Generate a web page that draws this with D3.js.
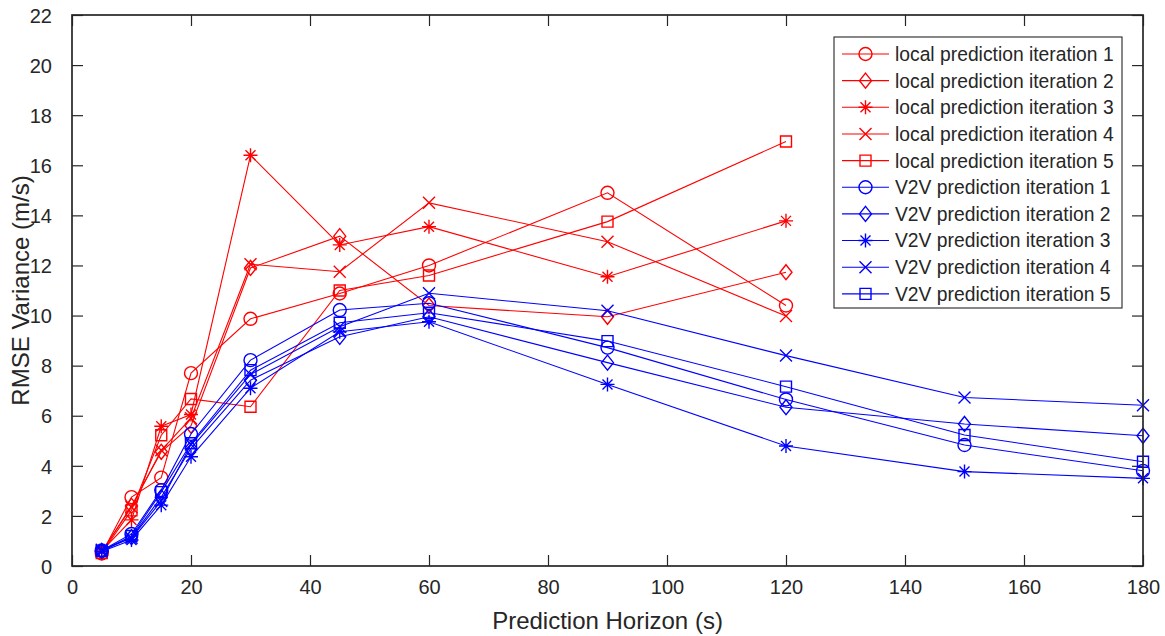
<!DOCTYPE html>
<html>
<head>
<meta charset="utf-8">
<script src="https://cdn.jsdelivr.net/npm/d3@7/dist/d3.min.js"></script>
<style>
  html, body { margin: 0; padding: 0; background: #ffffff; }
  svg { display: block; }
  text { font-family: "Liberation Sans", Arial, Helvetica, sans-serif; fill: #262626; }
</style>
</head>
<body>
<svg id="chart" width="1165" height="636"></svg>
<script>
// Prediction horizons (s)
const horizonLocal = [5, 10, 15, 20, 30, 45, 60, 90, 120];
const horizonV2V = [5, 10, 15, 20, 30, 45, 60, 90, 120, 150, 180];

// RMSE variance (m/s), local prediction runs
const local1 = [0.50, 2.75, 3.53, 7.70, 9.87, 10.88, 12.00, 14.90, 10.40];
const local2 = [0.55, 2.40, 4.56, 5.60, 11.90, 13.17, 10.40, 9.95, 11.73];
const local3 = [0.60, 1.84, 5.58, 6.05, 16.40, 12.82, 13.55, 11.55, 13.78];
const local4 = [0.58, 2.35, 4.62, 5.90, 12.05, 11.75, 14.50, 12.95, 9.98];
const local5 = [0.52, 2.22, 5.22, 6.67, 6.36, 11.00, 11.60, 13.75, 16.95];

// RMSE variance (m/s), V2V prediction runs
const v2v1 = [0.62, 1.28, 3.03, 5.27, 8.22, 10.22, 10.49, 8.72, 6.65, 4.83, 3.80];
const v2v2 = [0.60, 1.15, 2.75, 4.70, 7.42, 9.15, 9.95, 8.12, 6.34, 5.67, 5.20];
const v2v3 = [0.58, 1.04, 2.43, 4.36, 7.10, 9.35, 9.75, 7.25, 4.79, 3.77, 3.50];
const v2v4 = [0.65, 1.12, 2.60, 4.85, 7.65, 9.55, 10.89, 10.19, 8.40, 6.73, 6.42];
const v2v5 = [0.60, 1.20, 2.95, 4.90, 7.82, 9.71, 10.11, 8.98, 7.16, 5.23, 4.16];

const seriesNames = [
  "local prediction iteration 1", "local prediction iteration 2", "local prediction iteration 3",
  "local prediction iteration 4", "local prediction iteration 5",
  "V2V prediction iteration 1", "V2V prediction iteration 2", "V2V prediction iteration 3",
  "V2V prediction iteration 4", "V2V prediction iteration 5"
];
const xTicks = [0, 20, 40, 60, 80, 100, 120, 140, 160, 180];
const yTicks = [0, 2, 4, 6, 8, 10, 12, 14, 16, 18, 20, 22];

const RED = "#ff0000", BLUE = "#0000ff", AXIS = "#262626";
const markerKinds = ["circle", "diamond", "asterisk", "cross", "square"];

const series = [
  { name: seriesNames[0], x: horizonLocal, y: local1, color: RED, marker: markerKinds[0] },
  { name: seriesNames[1], x: horizonLocal, y: local2, color: RED, marker: markerKinds[1] },
  { name: seriesNames[2], x: horizonLocal, y: local3, color: RED, marker: markerKinds[2] },
  { name: seriesNames[3], x: horizonLocal, y: local4, color: RED, marker: markerKinds[3] },
  { name: seriesNames[4], x: horizonLocal, y: local5, color: RED, marker: markerKinds[4] },
  { name: seriesNames[5], x: horizonV2V, y: v2v1, color: BLUE, marker: markerKinds[0] },
  { name: seriesNames[6], x: horizonV2V, y: v2v2, color: BLUE, marker: markerKinds[1] },
  { name: seriesNames[7], x: horizonV2V, y: v2v3, color: BLUE, marker: markerKinds[2] },
  { name: seriesNames[8], x: horizonV2V, y: v2v4, color: BLUE, marker: markerKinds[3] },
  { name: seriesNames[9], x: horizonV2V, y: v2v5, color: BLUE, marker: markerKinds[4] }
];

const margin = { left: 72, right: 22, top: 15, bottom: 70 };
const W = 1165, H = 636;
const x = d3.scaleLinear().domain([0, 180]).range([margin.left, W - margin.right]);
const y = d3.scaleLinear().domain([0, 22]).range([H - margin.bottom, margin.top]);

const svg = d3.select("#chart");

// marker path generators centred on (0,0)
function markerPath(kind) {
  const p = d3.path();
  if (kind === "circle") {
    p.moveTo(6.5, 0); p.arc(0, 0, 6.5, 0, 2 * Math.PI);
  } else if (kind === "diamond") {
    p.moveTo(0, -7.5); p.lineTo(6, 0); p.lineTo(0, 7.5); p.lineTo(-6, 0); p.closePath();
  } else if (kind === "square") {
    p.rect(-5.5, -5.5, 11, 11);
  } else if (kind === "cross") {
    const s = 6;
    p.moveTo(-s, -s); p.lineTo(s, s); p.moveTo(-s, s); p.lineTo(s, -s);
  } else if (kind === "asterisk") {
    const s = 7, d = 5;
    p.moveTo(0, -s); p.lineTo(0, s);
    p.moveTo(-s, 0); p.lineTo(s, 0);
    p.moveTo(-d, -d); p.lineTo(d, d);
    p.moveTo(-d, d); p.lineTo(d, -d);
  }
  return p.toString();
}

// tick marks pointing inward on all four sides
const tickLen = 11;
const axes = svg.append("g");
const bottomAxis = d3.axisBottom(x).tickValues(xTicks).tickSizeInner(-tickLen).tickSizeOuter(0).tickPadding(14);
const leftAxis = d3.axisLeft(y).tickValues(yTicks).tickSizeInner(-tickLen).tickSizeOuter(0).tickPadding(20);
const topAxis = d3.axisTop(x).tickValues(xTicks).tickSizeInner(-tickLen).tickSizeOuter(0).tickFormat("");
const rightAxis = d3.axisRight(y).tickValues(yTicks).tickSizeInner(-tickLen).tickSizeOuter(0).tickFormat("");

const gB = axes.append("g").attr("transform", `translate(0,${y(0)})`).call(bottomAxis);
const gL = axes.append("g").attr("transform", `translate(${x(0)},0)`).call(leftAxis);
const gT = axes.append("g").attr("transform", `translate(0,${y(22)})`).call(topAxis);
const gR = axes.append("g").attr("transform", `translate(${x(180)},0)`).call(rightAxis);
[gB, gL, gT, gR].forEach(g => {
  g.select(".domain").remove();
  g.selectAll(".tick line").attr("stroke", AXIS).attr("stroke-width", 1.2);
  g.selectAll(".tick text").attr("fill", AXIS).style("font-size", "20px")
    .style("font-family", '"Liberation Sans", Arial, sans-serif');
});
gL.selectAll(".tick text").attr("dy", "0.36em");

// data lines and markers, drawn series by series
const line = d3.line().x(d => x(d[0])).y(d => y(d[1]));
const plot = svg.append("g");
series.forEach(s => {
  const pts = s.x.map((v, i) => [v, s.y[i]]);
  const g = plot.append("g");
  g.append("path").attr("d", line(pts)).attr("fill", "none")
    .attr("stroke", s.color).attr("stroke-width", 1.1);
  g.selectAll("path.mk").data(pts).enter().append("path").attr("class", "mk")
    .attr("transform", d => `translate(${x(d[0])},${y(d[1])})`)
    .attr("d", markerPath(s.marker))
    .attr("fill", "none").attr("stroke", s.color).attr("stroke-width", 1.4);
});

// axes box
svg.append("rect")
  .attr("x", x(0)).attr("y", y(22))
  .attr("width", x(180) - x(0)).attr("height", y(0) - y(22))
  .attr("fill", "none").attr("stroke", AXIS).attr("stroke-width", 1.7);

// axis titles
svg.append("text").attr("x", (x(0) + x(180)) / 2).attr("y", 629)
  .attr("text-anchor", "middle").style("font-size", "24px")
  .text("Prediction Horizon (s)");
svg.append("text").attr("transform", `translate(29,${(y(0) + y(22)) / 2}) rotate(-90)`)
  .attr("text-anchor", "middle").style("font-size", "24px")
  .text("RMSE Variance (m/s)");

// legend
const legX = 834, legY = 37, legW = 288, legH = 271, rowH = 26.65, firstRow = 54;
const leg = svg.append("g");
leg.append("rect").attr("x", legX).attr("y", legY).attr("width", legW).attr("height", legH)
  .attr("fill", "#ffffff").attr("stroke", AXIS).attr("stroke-width", 1.1);
series.forEach((s, i) => {
  const cy = firstRow + i * rowH;
  leg.append("line").attr("x1", 842).attr("x2", 889).attr("y1", cy).attr("y2", cy)
    .attr("stroke", s.color).attr("stroke-width", 1.1);
  leg.append("path").attr("transform", `translate(865.5,${cy})`).attr("d", markerPath(s.marker))
    .attr("fill", "none").attr("stroke", s.color).attr("stroke-width", 1.4);
  leg.append("text").attr("x", 895).attr("y", cy).attr("dy", "0.36em")
    .style("font-size", "19.3px").text(s.name);
});
</script>
</body>
</html>
